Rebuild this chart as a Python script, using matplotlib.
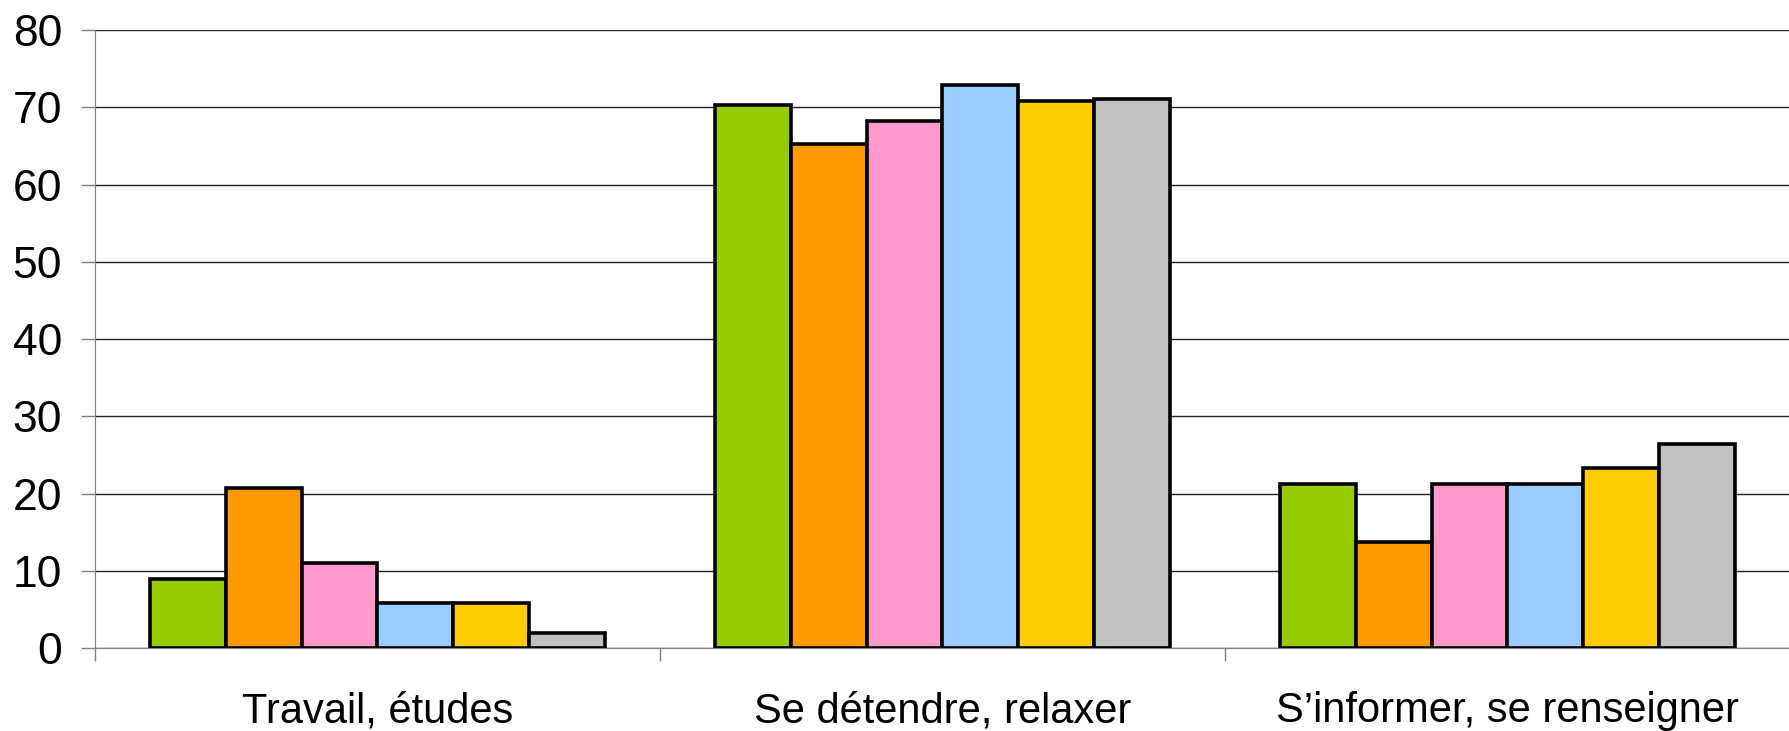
import numpy as np
import matplotlib.pyplot as plt

plt.rcParams['font.family'] = ['Liberation Sans', 'DejaVu Sans']

categories = ['Travail, études', 'Se détendre, relaxer', 'S\u2019informer, se renseigner']
# one list per series (same order as colours)
serie_vert = [9, 70.3, 21.3]
serie_orange = [20.8, 65.2, 13.7]
serie_rose = [11.0, 68.2, 21.3]
serie_bleu = [5.9, 72.9, 21.3]
serie_jaune = [5.9, 70.8, 23.4]
serie_gris = [2.0, 71.1, 26.4]

series = [serie_vert, serie_orange, serie_rose, serie_bleu, serie_jaune, serie_gris]
couleurs = ['#99CC00', '#FF9900', '#FF99CC', '#99CCFF', '#FFCC00', '#C0C0C0']

fig = plt.figure(figsize=(17.9, 7.31), dpi=100)
ax = fig.add_axes([0.053, 0.113, 0.947, 0.846])

n = len(series)
largeur = 0.134
centres = np.arange(len(categories)) + 0.5
for i, (vals, c) in enumerate(zip(series, couleurs)):
    pos = centres + (i - (n - 1) / 2) * largeur
    ax.bar(pos, vals, width=largeur, color=c, edgecolor='black', linewidth=2.6, zorder=3)

ax.set_xlim(0, 3)
ax.set_ylim(0, 80)
ax.set_yticks(np.arange(0, 81, 10))
ax.yaxis.grid(True, color='#222222', linewidth=1.0, zorder=0)

# separateurs de groupes en ticks majeurs, noms des groupes en ticks mineurs
ax.set_xticks([0, 1, 2, 3])
ax.set_xticklabels([])
ax.set_xticks(centres, minor=True)
ax.set_xticklabels(categories, minor=True)
ax.tick_params(axis='x', which='major', direction='out', length=9.5, width=1, color='#808080')
ax.tick_params(axis='x', which='minor', length=0, pad=31, labelsize=30)
ax.tick_params(axis='y', direction='out', length=10, width=1, color='#808080', pad=13.5, labelsize=32)

for s in ['top', 'right']:
    ax.spines[s].set_visible(False)
ax.spines['left'].set_color('#808080')
ax.spines['bottom'].set_color('#808080')

fig.savefig('out.png', dpi=100)
